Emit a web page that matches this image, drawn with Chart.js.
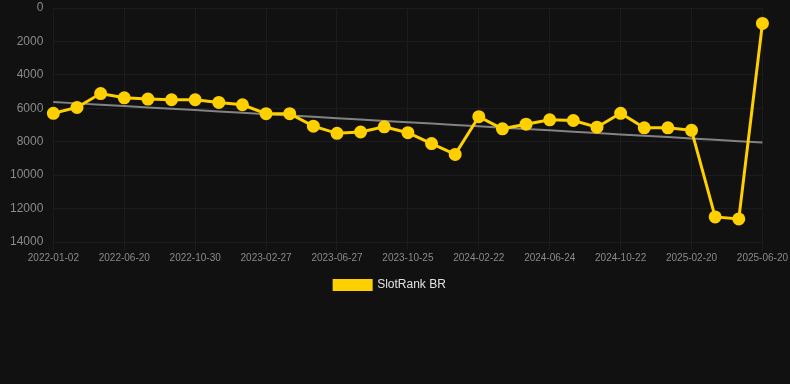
<!DOCTYPE html>
<html>
<head>
<meta charset="utf-8">
<script src="https://cdn.jsdelivr.net/npm/chart.js@4"></script>
<style>
html,body{margin:0;padding:0;background:#111111;}
#wrap{width:790px;height:301px;position:relative;}
</style>
</head>
<body>
<div id="wrap"><canvas id="c"></canvas></div>
<script>
const categories = [
  "2022-01-02","2022-02-27","2022-04-24","2022-06-20","2022-08-03","2022-09-16",
  "2022-10-30","2022-12-09","2023-01-18","2023-02-27","2023-04-08","2023-05-18",
  "2023-06-27","2023-08-06","2023-09-15","2023-10-25","2023-12-04","2024-01-13",
  "2024-02-22","2024-04-03","2024-05-14","2024-06-24","2024-08-03","2024-09-12",
  "2024-10-22","2024-12-01","2025-01-10","2025-02-20","2025-04-01","2025-05-11",
  "2025-06-20"
];
const slotRankBR = [
  6300,5950,5120,5375,5450,5490,5490,5650,5790,6320,6320,7070,7500,7420,7110,
  7460,8110,8760,6500,7230,6950,6690,6730,7130,6300,7170,7170,7320,12500,12620,925
];
const yTicks = [0,2000,4000,6000,8000,10000,12000,14000];

// least-squares trend of the series
const n = slotRankBR.length;
const mx = (n-1)/2;
const my = slotRankBR.reduce((a,b)=>a+b,0)/n;
let sxy=0, sxx=0;
slotRankBR.forEach((v,i)=>{ sxy += (i-mx)*(v-my); sxx += (i-mx)*(i-mx); });
const slope = sxy/sxx;
const trend = slotRankBR.map((v,i)=> my + slope*(i-mx));

const font = {family:"'Liberation Sans', Arial, sans-serif"};
new Chart(document.getElementById('c'), {
  type:'line',
  data:{
    labels:categories,
    datasets:[
      {label:'SlotRank BR', data:slotRankBR, borderColor:'#FFD000', backgroundColor:'#FFD000',
       borderWidth:3, pointRadius:5, pointHoverRadius:5, pointBackgroundColor:'#FFD000',
       pointBorderColor:'#FFD000', tension:0},
      {label:'Trend', data:trend, borderColor:'rgba(150,150,150,0.85)', borderWidth:2,
       pointRadius:0, fill:false, tension:0}
    ]
  },
  options:{
    responsive:true, maintainAspectRatio:false, animation:false,
    layout:{padding:{left:0,right:10,top:0,bottom:0}},
    plugins:{
      legend:{position:'bottom', labels:{color:'#e0e0e0', boxWidth:37, boxHeight:9, padding:13,
        font:{...font,size:12}, filter:(item)=>item.text==='SlotRank BR'}},
      tooltip:{enabled:false}
    },
    scales:{
      x:{
        grid:{color:'#1c1c1c', tickColor:'#1c1c1c'},
        border:{color:'#1c1c1c'},
        afterBuildTicks:(scale)=>{ scale.ticks = scale.ticks.filter((t,i)=>i%3===0); },
        ticks:{color:'#8a8a8a', font:{...font,size:10}, maxRotation:0, autoSkip:false, padding:2,
          callback:function(v){ return this.getLabelForValue(v); }}
      },
      y:{
        reverse:true, min:0, max:14000,
        afterBuildTicks:(scale)=>{ scale.ticks = yTicks.map(v=>({value:v})); },
        afterFit:(scale)=>{ scale.width += 10; },
        grid:{color:'#1c1c1c', tickColor:'transparent', tickLength:10},
        border:{display:false},
        ticks:{color:'#8a8a8a', font:{...font,size:12,lineHeight:0.85}, padding:0, callback:(v)=>String(v)}
      }
    }
  }
});
</script>
</body>
</html>
